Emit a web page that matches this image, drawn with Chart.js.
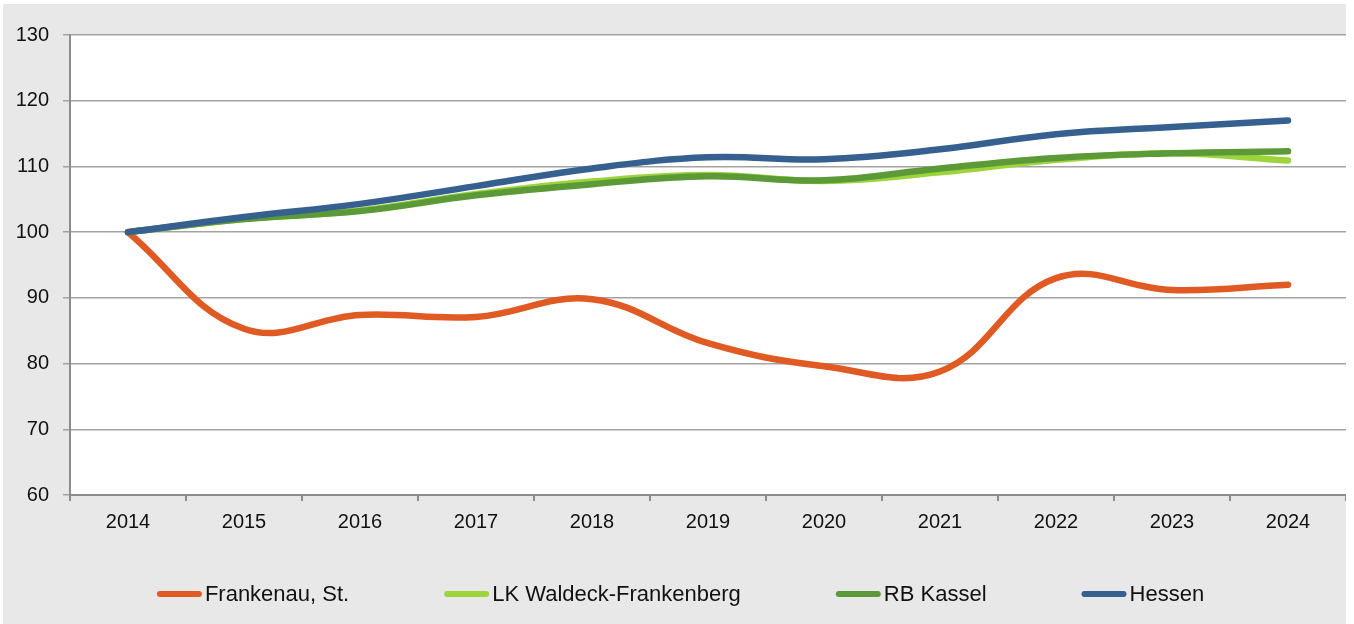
<!DOCTYPE html>
<html>
<head>
<meta charset="utf-8">
<script src="https://cdn.jsdelivr.net/npm/chart.js@4/dist/chart.umd.min.js"></script>
<style>
    html, body { margin: 0; padding: 0; background: #fff; }
    #wrap { position: absolute; left: 3px; top: 4px; width: 1343px; height: 620px; background: #e8e8e8; }
</style>
</head>
<body>
<div id="wrap"><canvas id="indexChart"></canvas></div>
<script>
const years = ["2014", "2015", "2016", "2017", "2018", "2019", "2020", "2021", "2022", "2023", "2024"]
const frankenau = [100, 85.3, 87.4, 87.1, 89.8, 83.1, 79.6, 78.8, 93.0, 91.2, 92.0]
const waldeck = [100, 102.0, 103.3, 105.8, 107.7, 108.7, 107.8, 109.1, 111.0, 112.0, 110.9]
const kassel = [100, 102.0, 103.2, 105.6, 107.3, 108.5, 107.9, 109.7, 111.3, 112.0, 112.3]
const hessen = [100, 102.3, 104.3, 107.0, 109.7, 111.4, 111.1, 112.6, 114.9, 116.0, 117.0]

const fontFamily = "'Liberation Sans', Arial, sans-serif"
Chart.defaults.font.family = fontFamily
Chart.defaults.color = "#111"

const makeSet = (label, data, color, order) => ({
    label,
    data,
    borderColor: color,
    backgroundColor: color,
    borderWidth: 6.5,
    borderCapStyle: "round",
    borderJoinStyle: "round",
    pointRadius: 0,
    tension: 0.4,
    order
})

// white plot area on the grey page
const plotBackground = {
    id: "plotBackground",
    beforeDraw(chart) {
        const { ctx, chartArea: a } = chart
        ctx.save()
        ctx.fillStyle = "#fff"
        ctx.fillRect(a.left, a.top, a.right - a.left, a.bottom - a.top)
        ctx.restore()
    }
}

// legend drawn by hand: short thick line, text right after it
const lineLegend = {
    id: "lineLegend",
    afterDraw(chart) {
        const ctx = chart.ctx
        const sets = chart.data.datasets
        const lineLen = 45
        const gap = 3
        const space = 95
        ctx.save()
        ctx.font = `22px ${fontFamily}`
        const widths = sets.map(ds => ctx.measureText(ds.label).width)
        const total = widths.reduce((a, w) => a + w + lineLen + gap, 0) + space * (sets.length - 1)
        let x = chart.width / 2 - total / 2 + 6
        const y = 590
        sets.forEach((ds, i) => {
            ctx.strokeStyle = ds.borderColor
            ctx.lineWidth = 6
            ctx.lineCap = "round"
            ctx.beginPath()
            ctx.moveTo(x + 3, y)
            ctx.lineTo(x + lineLen - 3, y)
            ctx.stroke()
            ctx.fillStyle = "#111"
            ctx.textAlign = "left"
            ctx.textBaseline = "middle"
            ctx.fillText(ds.label, x + lineLen + gap, y + 1)
            x += lineLen + gap + widths[i] + space
        })
        ctx.restore()
    }
}

const chart = new Chart(document.getElementById("indexChart"), {
    type: "line",
    data: {
        labels: years,
        datasets: [
            makeSet("Frankenau, St.", frankenau, "#e05a24", 4),
            makeSet("LK Waldeck-Frankenberg", waldeck, "#9dd43c", 3),
            makeSet("RB Kassel", kassel, "#5b9a36", 2),
            makeSet("Hessen", hessen, "#35608f", 1)
        ]
    },
    options: {
        responsive: true,
        maintainAspectRatio: false,
        animation: false,
        layout: { padding: { top: 31, right: 0, left: 0, bottom: 89 } },
        scales: {
            x: {
                offset: true,
                afterFit: s => { s.height = 40 },
                grid: { offset: true, drawOnChartArea: false, tickLength: 6, color: "#8c8c8c", lineWidth: 2 },
                border: { color: "#8c8c8c", width: 2 },
                ticks: { font: { size: 20 }, padding: 9, color: "#111" }
            },
            y: {
                min: 60,
                max: 130,
                afterFit: s => { s.width = 67 },
                grid: { color: "#a3a3a3", lineWidth: 1.5, tickLength: 7 },
                border: { color: "#8c8c8c", width: 2 },
                ticks: { stepSize: 10, font: { size: 20 }, padding: 14, color: "#111" }
            }
        },
        plugins: {
            legend: { display: false },
            tooltip: { enabled: false }
        }
    },
    plugins: [plotBackground, lineLegend]
})
</script>
</body>
</html>
